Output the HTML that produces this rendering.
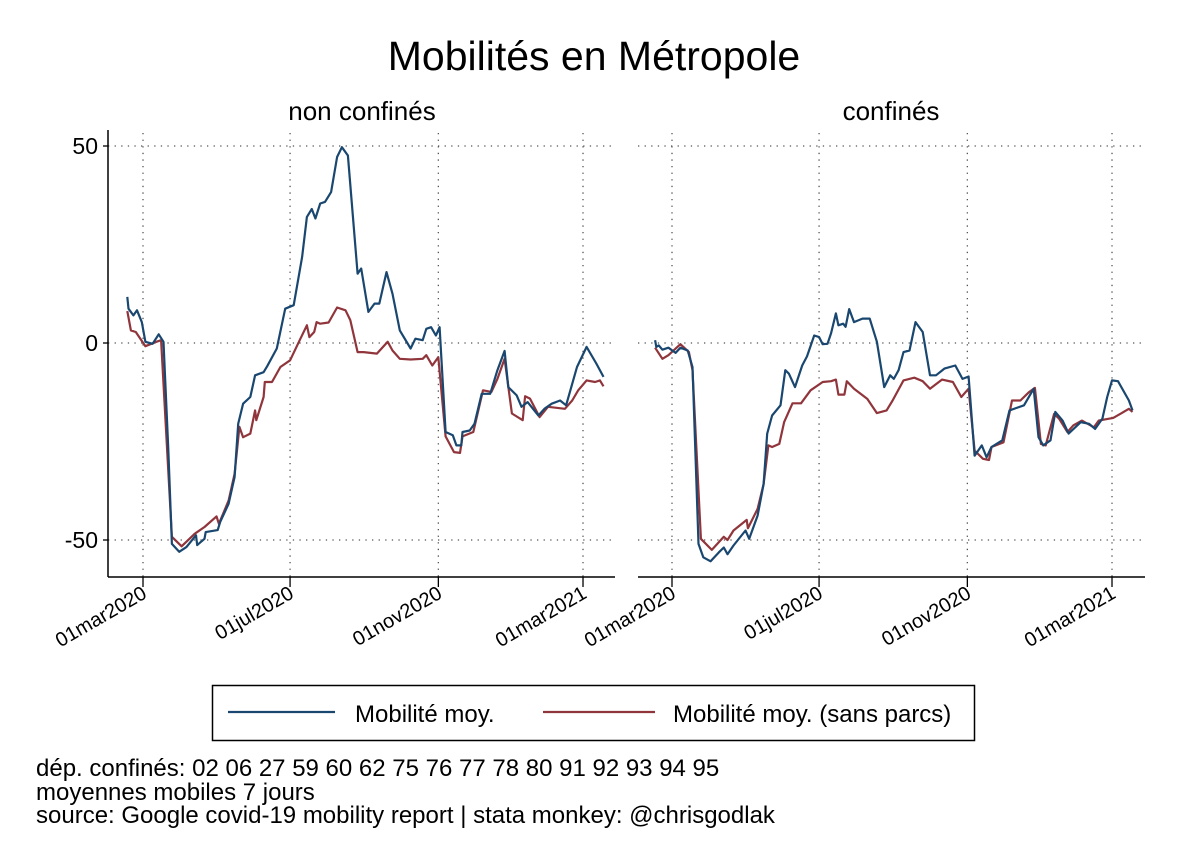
<!DOCTYPE html>
<html><head><meta charset="utf-8"><style>
body{margin:0;background:#fff;}
svg{display:block;font-family:"Liberation Sans",Arial,sans-serif;}
</style></head><body>
<svg id="chart" width="1188" height="864" viewBox="0 0 1188 864">
<rect width="1188" height="864" fill="#fff"/>
<text x="594" y="70" font-size="41" text-anchor="middle">Mobilités en Métropole</text>
<text x="362" y="120" font-size="26" text-anchor="middle">non confinés</text>
<text x="891" y="120" font-size="26" text-anchor="middle">confinés</text>
<g id="panels"></g>
<g>
<rect x="212.5" y="685.5" width="762" height="55" fill="#fff" stroke="#000" stroke-width="1.5"/>
<line x1="228" y1="712" x2="335" y2="712" stroke="#1a476f" stroke-width="2.2"/>
<text x="355" y="722" font-size="24">Mobilité moy.</text>
<line x1="543" y1="712" x2="655" y2="712" stroke="#90353b" stroke-width="2.2"/>
<text x="673" y="722" font-size="24">Mobilité moy. (sans parcs)</text>
</g>
<g font-size="24">
<text x="36" y="776">dép. confinés: 02 06 27 59 60 62 75 76 77 78 80 91 92 93 94 95</text>
<text x="36" y="800">moyennes mobiles 7 jours</text>
<text x="36" y="823">source: Google covid-19 mobility report | stata monkey: @chrisgodlak</text>
</g>
</svg>
<script>
// days since 01mar2020, values in %
const leftBlueDays=[-13,-12,-8,-5,-1,2,8,13,17,21,24,30,36,44,45,51,52,62,64,71,76,79,83,89,93,100,103,111,118,125,132,136,140,143,147,151,156,161,165,170,178,181,187,192,196,202,207,213,222,226,232,235,239,243,246,251,257,260,264,265,271,275,281,288,294,300,303,310,314,319,328,333,339,346,351,360,368,376,382];
const leftBlueVals=[11.7,8.7,7,8.3,5.3,0.3,-0.2,2.2,0.3,-27,-51,-53,-51.8,-48.8,-51.3,-49.7,-48,-47.5,-45.4,-40.8,-34,-20.5,-15.4,-13.7,-8.2,-7.4,-5.9,-1.4,8.7,9.6,21.8,32,34,31.6,35.4,35.8,38.3,47.2,49.7,47.6,17.6,18.9,7.9,10,10,18,12.5,3.2,-1.4,1.1,0.7,3.6,4,1.9,4,-22.6,-23.4,-26,-26,-22.6,-22.2,-20.5,-12.9,-12.9,-6.9,-2,-11.2,-13.3,-16.2,-15,-18.4,-16.7,-15.4,-14.6,-15.8,-6.1,-1,-5.2,-8.6];
const leftRedDays=[-13,-10,-6,2,11,15,24,32,43,51,61,63,71,76,80,83,89,93,94,100,101,107,114,122,130,136,138,142,144,147,154,161,168,172,178,183,194,203,207,213,222,232,235,240,245,251,258,263,265,274,282,289,294,300,306,315,317,321,329,336,350,356,361,368,375,379,382];
const leftRedVals=[8.1,3.2,2.8,-0.8,0.3,0.7,-49.2,-51.6,-48.4,-46.7,-44,-45.9,-40,-33.2,-21.3,-23.9,-23,-17.1,-19.6,-13.7,-9.9,-9.9,-6.1,-4.4,0.7,4.5,1.5,2.8,5.3,4.9,5.2,9,8.3,5.8,-2.3,-2.3,-2.7,0.3,-1.9,-4,-4.2,-4,-3.1,-5.7,-3.6,-23.7,-27.7,-27.9,-23.7,-22.6,-12,-12.4,-9.1,-4,-17.9,-19.6,-13.5,-14.1,-18.8,-16.2,-16.7,-14.6,-12,-9.5,-9.9,-9.5,-11];
const rightBlueDays=[-14,-13,-11,-8,-3,3,7,13,17,22,26,32,39,43,46,51,61,64,71,76,79,83,90,94,97,102,108,112,118,122,125,129,132,136,138,142,144,147,151,158,164,170,176,181,184,188,192,197,202,208,214,219,226,235,241,246,251,257,261,265,274,280,292,300,304,308,314,318,324,329,339,346,351,357,361,365,370,379,382];
const rightBlueVals=[0.7,-1,-0.6,-1.7,-1.2,-2.5,-1.2,-1.9,-6.1,-51,-54.4,-55.4,-53.1,-51.9,-53.6,-51.4,-47.6,-49.7,-43.8,-35.8,-23,-18.4,-15.8,-6.9,-7.8,-11.2,-5.7,-3.4,1.9,1.5,-0.3,-0.2,2.5,7.5,4.5,4.9,4.1,8.6,5.3,6.2,6.2,0.3,-11.2,-8.2,-9.1,-6.9,-2.3,-1.9,5.3,2.8,-8.2,-8.2,-6.5,-5.7,-9.1,-8.5,-28.6,-26,-29,-26.4,-24.7,-17.1,-15.8,-11.6,-23.9,-26,-24.7,-17.5,-19.7,-23,-20.1,-20.5,-21.8,-19.2,-13.7,-9.5,-9.7,-14.6,-17.1];
const rightRedDays=[-14,-8,-3,7,14,17,24,33,43,46,51,62,63,71,76,80,83,89,93,100,107,115,125,132,136,138,143,145,151,162,170,178,183,192,201,208,214,224,233,240,246,251,258,263,265,275,282,289,296,301,306,310,317,321,328,333,340,350,354,366,373,379,382];
const rightRedVals=[-1.2,-4,-3.1,-0.3,-2.3,-6.9,-49.7,-52.5,-49.2,-50,-47.6,-44.9,-47,-42.1,-35.8,-26,-26.4,-25.6,-20.1,-15.3,-15.3,-12,-9.9,-9.7,-9.3,-13.1,-13.1,-9.7,-11.6,-14.2,-17.8,-17.1,-14.6,-9.5,-8.8,-9.7,-11.6,-9.3,-9.9,-13.7,-11.6,-27.3,-29.4,-29.7,-26.4,-25.2,-14.6,-14.6,-12.5,-11.4,-25.6,-26,-18,-19.2,-22.6,-20.9,-19.7,-21.4,-19.7,-19,-17.8,-16.7,-17.5];
const tickDays=[0,122,245,365];
const tickLabels=["01mar2020","01jul2020","01nov2020","01mar2021"];
const yTicks=[50,0,-50];
const yTickLabels=["50","0","-50"];

const NS="http://www.w3.org/2000/svg";
const g=document.getElementById('panels');
function mk(tag,attrs,parent){const e=document.createElementNS(NS,tag);for(const k in attrs)e.setAttribute(k,attrs[k]);parent.appendChild(e);return e;}
const yScale=v=>343-v*3.94;
const panels=[
 {x0:108,x1:615,origin:143,left:true,blue:[leftBlueDays,leftBlueVals],red:[leftRedDays,leftRedVals],name:'non-confines'},
 {x0:638,x1:1145,origin:672,left:false,blue:[rightBlueDays,rightBlueVals],red:[rightRedDays,rightRedVals],name:'confines'}
];
panels.forEach(p=>{
 const xs=d=>p.origin+d*1.2055;
 const pg=mk('g',{},g);
 
 
 yTicks.forEach((t,i)=>{
  const gl=mk('line',{x1:p.x0,x2:p.x1,y1:yScale(t),y2:yScale(t),stroke:'#555','stroke-width':1.3,'stroke-dasharray':'1.3 5.3'},pg);
  
  
  if(p.left){
   mk('line',{x1:p.x0-5,x2:p.x0,y1:yScale(t),y2:yScale(t),stroke:'#000','stroke-width':1.3},pg);
   const tl=mk('text',{x:p.x0-10,y:yScale(t)+8,'font-size':23,'text-anchor':'end'},pg);
   tl.textContent=yTickLabels[i];
   
   
  }
 });
 tickDays.forEach((d,i)=>{
  const x=xs(d);
  const vl=mk('line',{x1:x,x2:x,y1:133,y2:577,stroke:'#555','stroke-width':1.3,'stroke-dasharray':'1.3 5.3'},pg);
  
  
  mk('line',{x1:x,x2:x,y1:577,y2:587,stroke:'#000','stroke-width':1.3},pg);
  const tl=mk('text',{x:x+5,y:597,'font-size':20,'text-anchor':'end',transform:`rotate(-30 ${x+5} 597)`},pg);
  tl.textContent=tickLabels[i];
  
  
 });
 const ax=mk('line',{x1:p.x0,x2:p.x1,y1:577,y2:577,stroke:'#000','stroke-width':1.5},pg);
 
 
 if(p.left){
  const ay=mk('line',{x1:p.x0,x2:p.x0,y1:130,y2:577,stroke:'#000','stroke-width':1.5},pg);
  
  
 }
 [[p.red,'#90353b','line-sans-parcs'],[p.blue,'#1a476f','line-mobilite']].forEach(([s,c,n])=>{
  const pts=s[0].map((d,i)=>xs(d).toFixed(1)+','+yScale(s[1][i]).toFixed(1)).join(' ');
  const pl=mk('polyline',{points:pts,fill:'none',stroke:c,'stroke-width':2.2,'stroke-linejoin':'round'},pg);
  
  
 });
});
</script>
</body></html>
